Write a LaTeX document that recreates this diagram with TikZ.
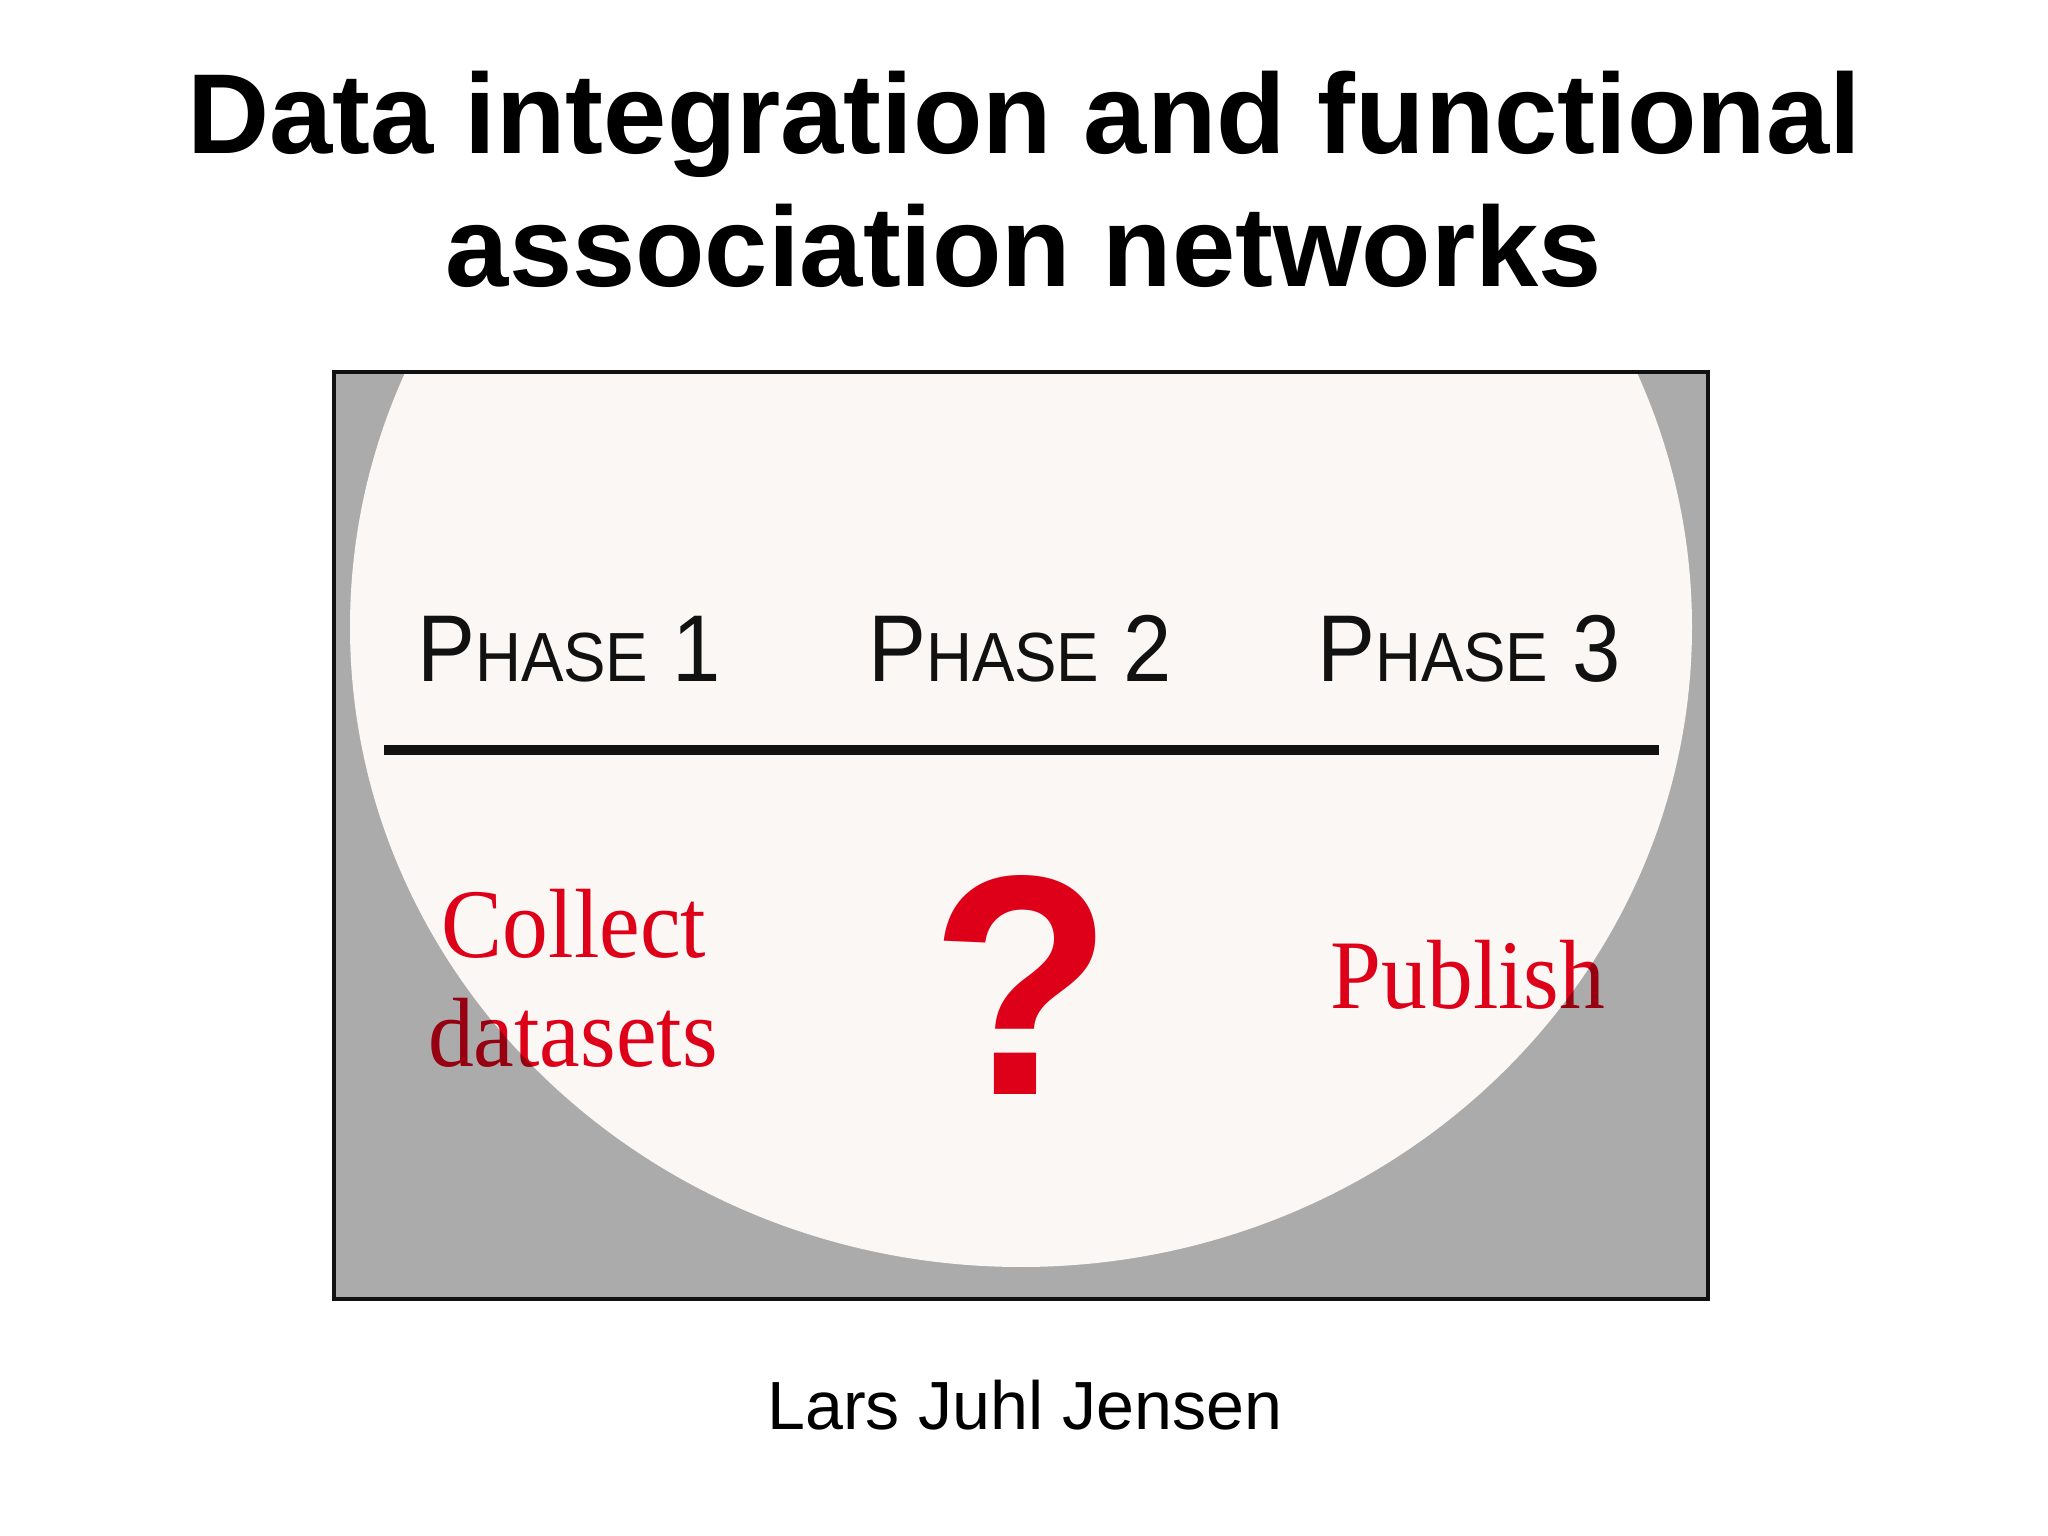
\documentclass[tikz,border=0pt]{standalone}
\usepackage{fontspec}
\setmainfont{Liberation Serif}
\setsansfont{Liberation Sans}
\usepackage{tikz}
\usetikzlibrary{positioning,calc}
\definecolor{Ink}{HTML}{111111}
\definecolor{Shade}{HTML}{ABABAB}
\definecolor{Spot}{HTML}{FAF7F5}
\definecolor{Signal}{HTML}{E2001A}
\tikzset{
  title/.style={anchor=base,font=\sffamily\bfseries\fontsize{32.35}{36}\selectfont,text=black,inner sep=0pt},
  phase/.style={anchor=base,font=\sffamily\fontsize{27}{30}\selectfont,text=Ink,inner sep=0pt},
  task/.style={anchor=base,font=\rmfamily\fontsize{28}{30}\selectfont,text=Signal,inner sep=0pt},
  query/.style={anchor=base,font=\sffamily\bfseries\fontsize{85}{90}\selectfont,text=Signal,inner sep=0pt},
  author/.style={anchor=base,font=\sffamily\fontsize{19.4}{24}\selectfont,text=black,inner sep=0pt},
  frame/.style={draw=Ink,line width=1.4pt},
  divider/.style={draw=Ink,line width=3pt}
}
\newcommand{\phasename}[1]{\scalebox{0.915}[1]{P{\fontsize{19.8}{22}\selectfont HASE} #1}}
\newcommand{\narrow}[1]{\scalebox{0.93}[1]{#1}}

\begin{document}
\begin{tikzpicture}
        \useasboundingbox[fill=white] (0,0) rectangle (20.48,-15.36);
        % title
        \node[title] (t1) at (10.24,-1.54) {Data integration and functional};
        \node[title] (t2) at (10.24,-2.87) {association networks};
        % panel with light spot
        \fill[Shade] (3.34,-3.72) rectangle (17.08,-12.99);
        \begin{scope}
          \clip (3.34,-3.72) rectangle (17.08,-12.99);
          \fill[Spot] (10.21,-6.27) ellipse [x radius=6.71,y radius=6.40];
        \end{scope}
        \draw[frame] (3.34,-3.72) rectangle (17.08,-12.99);
        % phases
        \node[phase] (p1) at (5.69,-6.82) {\phasename{1}};
        \node[phase] (p2) at (10.20,-6.82) {\phasename{2}};
        \node[phase] (p3) at (14.69,-6.82) {\phasename{3}};
        \coordinate (rl) at (3.84,-7.50);
        \coordinate (rr) at (16.59,-7.50);
        \draw[divider] (rl) -- (rr);
        % tasks
        \begin{scope}[blend mode=multiply]
          \node[task] (c1) at (5.74,-9.57) {\narrow{Collect}};
          \node[task] (c2) at (5.73,-10.67) {\narrow{datasets}};
          \node[query] (q) at (10.22,-10.94) {\scalebox{1}[1.05]{?}};
          \node[task] (pub) at (14.68,-10.08) {\narrow{Publish}};
        \end{scope}
        \node[author] (who) at (10.25,-14.29) {Lars Juhl Jensen};
      \end{tikzpicture}
\end{document}
